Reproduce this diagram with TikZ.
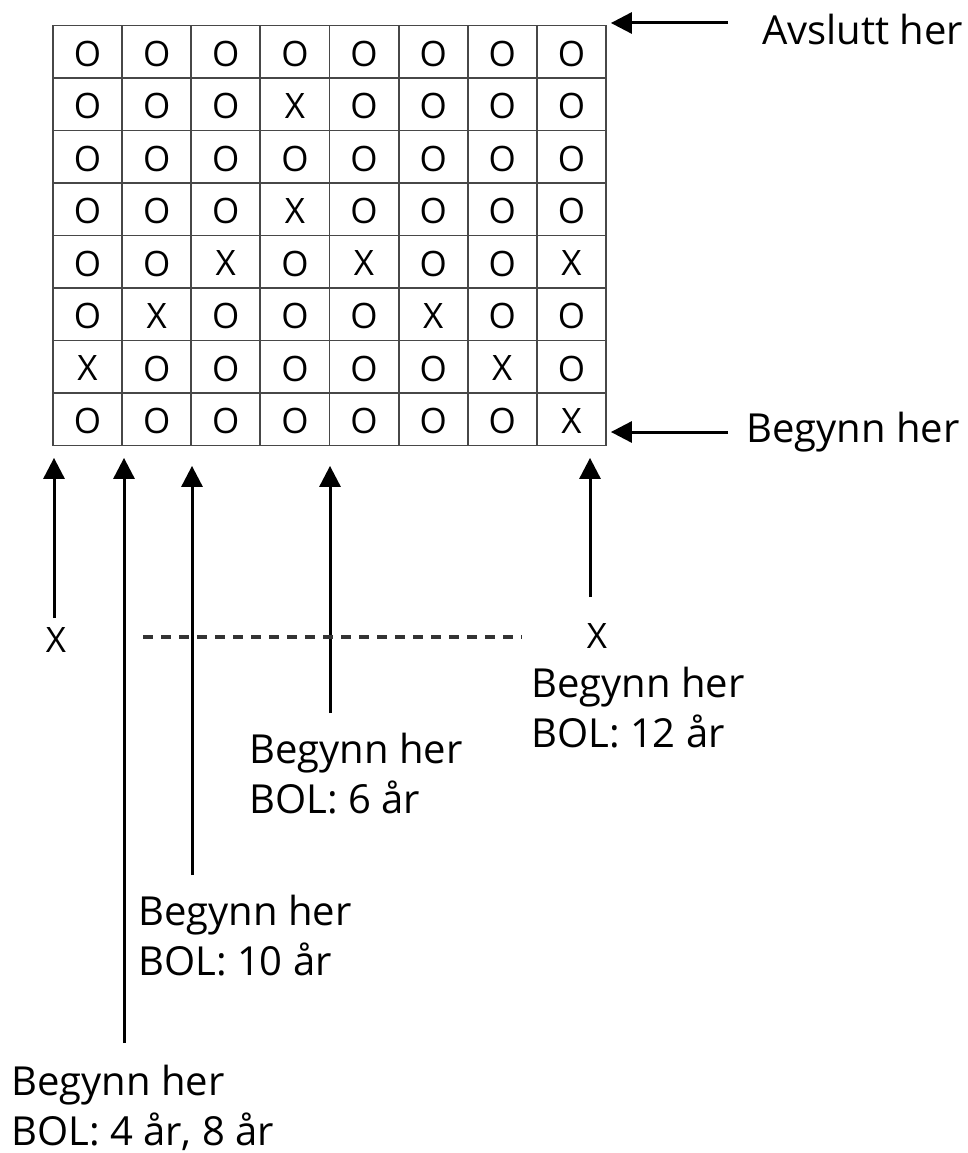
\documentclass[tikz,border=0pt]{standalone}
\usepackage{fontspec}
\setmainfont{Open Sans}
\usetikzlibrary{arrows.meta}
\begin{document}
\begin{tikzpicture}[x=1pt,y=-1pt,
  gridline/.style={draw=black!72, line width=1.8pt},
  cell/.style={font=\fontsize{35}{40}\selectfont, anchor=center, inner sep=0pt},
  lbl/.style={font=\fontsize{40}{50}\selectfont, align=left, inner sep=0pt, anchor=base west},
  arr/.style={line width=3pt, -{Triangle[length=21pt,width=21pt]}},
  dashline/.style={draw=black!80, line width=3.5pt, dash pattern=on 10pt off 8pt}]
\useasboundingbox[fill=white] (0,0) rectangle (967,1153);
% grid
\node[gridline, minimum width=553pt, minimum height=420pt, inner sep=0pt] (grid) at (329.5,235.5) {};
\foreach \i in {1,...,7} {
  \draw[gridline] (53+69.125*\i,25.5) -- (53+69.125*\i,445.5);
  \draw[gridline] (53,25.5+52.5*\i) -- (606,25.5+52.5*\i);
}
\foreach \row [count=\r] in {
  {O,O,O,O,O,O,O,O},
  {O,O,O,X,O,O,O,O},
  {O,O,O,O,O,O,O,O},
  {O,O,O,X,O,O,O,O},
  {O,O,X,O,X,O,O,X},
  {O,X,O,O,O,X,O,O},
  {X,O,O,O,O,O,X,O},
  {O,O,O,O,O,O,O,X}} {
  \foreach \s [count=\c] in \row {
    \node[cell] (c-\r-\c) at (53+69.125*\c-34.56, 25.5+52.5*\r-24.5) {\s};
  }
}
% right arrows
\coordinate (avtail) at (728,23);
\coordinate (betail) at (728,432);
\draw[arr, shorten >=4pt] (avtail) -- (avtail -| grid.east);
\draw[arr, shorten >=4pt] (betail) -- (betail -| grid.east);
\node[lbl] (avslutt) at (762,45) {Avslutt her};
\node[lbl] (begynn) at (746,442) {Begynn her};
% vertical arrows
\node[cell] (x1) at (56,640) {X};
\node[cell] (x2) at (597,636) {X};
\coordinate (t1) at (54,618);
\coordinate (t2) at (124,1043);
\coordinate (t3) at (192,875);
\coordinate (t4) at (330,713);
\coordinate (t5) at (590,597);
\draw[arr, shorten >=11.5pt] (t1) -- (t1 |- grid.south);
\draw[arr, shorten >=11.5pt] (t2) -- (t2 |- grid.south);
\draw[arr, shorten >=19.5pt] (t3) -- (t3 |- grid.south);
\draw[arr, shorten >=19.5pt] (t4) -- (t4 |- grid.south);
\draw[arr, shorten >=11.5pt] (t5) -- (t5 |- grid.south);
% dashed line
\coordinate (d1) at (143,637);
\coordinate (d2) at (522,637);
\draw[dashline] (d1) -- (d2);
% labels
\node[lbl] (l12) at (531,747) {Begynn her\\BOL: 12 år};
\node[lbl] (l6) at (249,813) {Begynn her\\BOL: 6 år};
\node[lbl] (l10) at (138,975) {Begynn her\\BOL: 10 år};
\node[lbl] (l48) at (11,1145) {Begynn her\\BOL: 4 år, 8 år};
\end{tikzpicture}
\end{document}
